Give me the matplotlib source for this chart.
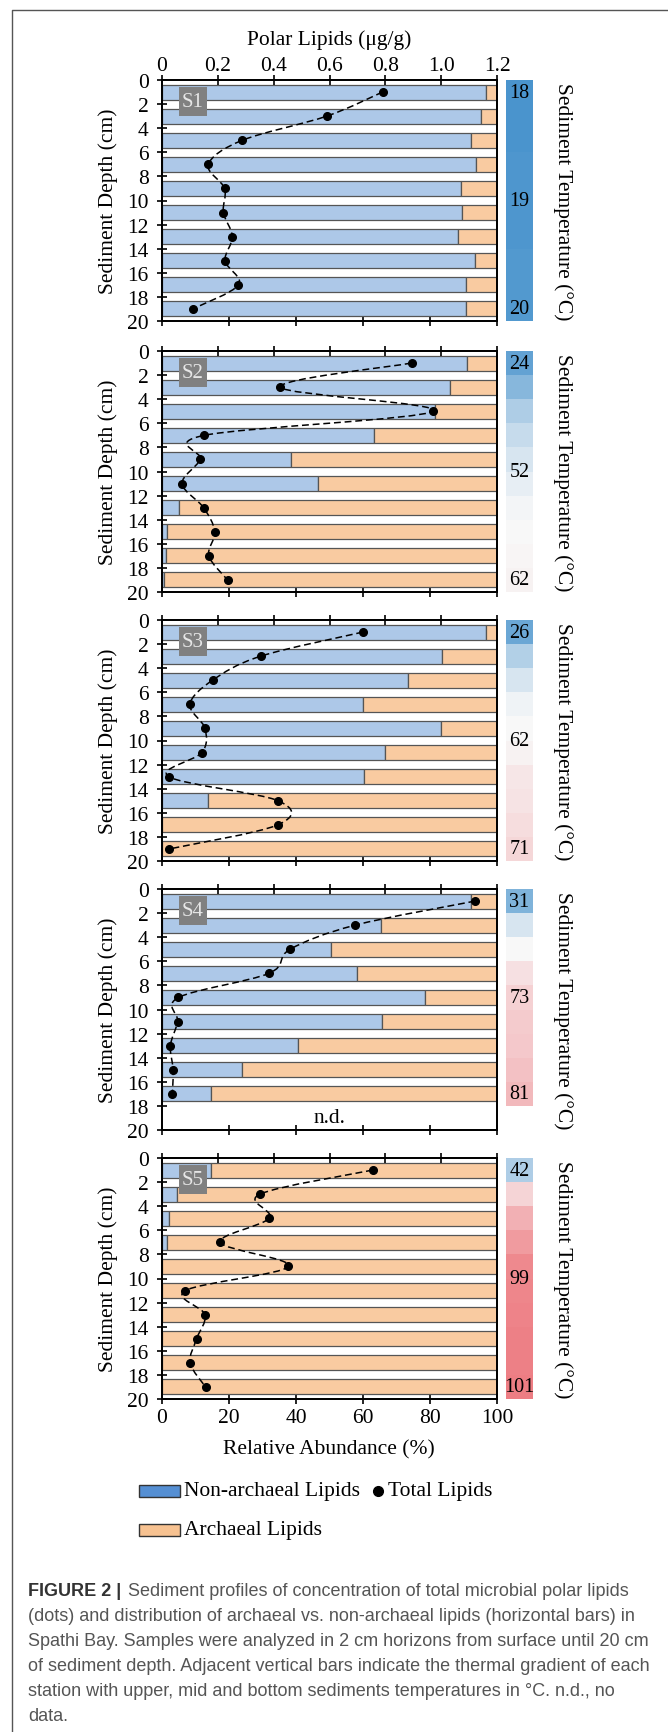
import numpy as np
import matplotlib
matplotlib.use('Agg')
import matplotlib.pyplot as plt
from matplotlib.path import Path
from matplotlib.patches import PathPatch, Rectangle
from matplotlib.colors import LinearSegmentedColormap, TwoSlopeNorm
from matplotlib.lines import Line2D

SERIF = ['Liberation Serif', 'DejaVu Serif']
plt.rcParams['font.family'] = SERIF
plt.rcParams['mathtext.fontset'] = 'stix'

stations = ['S1', 'S2', 'S3', 'S4', 'S5']
depth_full = [1, 3, 5, 7, 9, 11, 13, 15, 17, 19]
depth_s4 = [1, 3, 5, 7, 9, 11, 13, 15, 17]

# non-archaeal share of polar lipids (%), archaeal = rest
nonarch = {
    'S1': [96.8, 95.3, 92.1, 93.8, 89.3, 89.7, 88.4, 93.5, 90.6, 90.6],
    'S2': [91.1, 86.0, 81.4, 63.3, 38.5, 46.6, 5.2, 1.5, 1.3, 0.6],
    'S3': [96.6, 83.5, 73.3, 60.1, 83.2, 66.7, 60.4, 13.6, 0.0, 0.0],
    'S4': [92.1, 65.4, 50.4, 58.1, 78.4, 65.7, 40.7, 23.9, 14.7],
    'S5': [14.6, 4.6, 2.2, 1.4, 0.0, 0.0, 0.0, 0.0, 0.0, 0.0],
}
# total polar lipids (ug/g)
total = {
    'S1': [0.79, 0.59, 0.288, 0.166, 0.224, 0.22, 0.252, 0.226, 0.274, 0.11],
    'S2': [0.894, 0.424, 0.971, 0.151, 0.137, 0.072, 0.149, 0.189, 0.168, 0.235],
    'S3': [0.72, 0.354, 0.181, 0.10, 0.154, 0.143, 0.024, 0.416, 0.415, 0.026],
    'S4': [1.122, 0.692, 0.459, 0.383, 0.059, 0.056, 0.030, 0.040, 0.037],
    'S5': [0.755, 0.351, 0.384, 0.209, 0.453, 0.084, 0.154, 0.124, 0.101, 0.156],
}
# temperature of each 2 cm horizon (deg C)
temps = {
    'S1': [18, 18, 18, 19, 19, 19, 19, 20, 20, 20],
    'S2': [24, 33, 42, 48, 52, 56, 59, 60, 61, 62],
    'S3': [26, 43, 52, 58, 60, 62, 66, 67, 69, 71],
    'S4': [31, 52, 60, 68, 73, 75, 76, 78, 81],
    'S5': [42, 72, 84, 91, 97, 98, 99, 100, 100, 101],
}
temp_labels = {
    'S1': [(18, 1), (19, 10), (20, 19)],
    'S2': [(24, 1), (52, 10), (62, 19)],
    'S3': [(26, 1), (62, 10), (71, 19)],
    'S4': [(31, 1), (73, 9), (81, 17)],
    'S5': [(42, 1), (99, 10), (101, 19)],
}
lipid_ticks = [0, 0.2, 0.4, 0.6, 0.8, 1.0, 1.2]
lipid_ticklabels = ['0', '0.2', '0.4', '0.6', '0.8', '1.0', '1.2']
abund_ticks = [0, 20, 40, 60, 80, 100]
depth_ticks = list(range(0, 21, 2))

caption = [
    'Sediment profiles of concentration of total microbial polar lipids',
    '(dots) and distribution of archaeal vs. non-archaeal lipids (horizontal bars) in',
    'Spathi Bay. Samples were analyzed in 2 cm horizons from surface until 20 cm',
    'of sediment depth. Adjacent vertical bars indicate the thermal gradient of each',
    'station with upper, mid and bottom sediments temperatures in \u00b0C. n.d., no',
    'data.',
]

W, H = 668, 1733
BLUE = '#adc8e8'
ORANGE = '#f9cba1'
EDGE = '#555555'
FS = 15.5

cmap = LinearSegmentedColormap.from_list('temp', ['#4a94cd', '#f8f8f8', '#ed7d83'])
norm = TwoSlopeNorm(vmin=18, vcenter=60, vmax=101)


def fx(px):
    return px / W


def fy(py):
    return 1 - py / H


def smooth_path(x, y):
    pts = np.column_stack([x, y])
    p = np.vstack([pts[0], pts, pts[-1]])
    verts = [pts[0]]
    codes = [Path.MOVETO]
    for i in range(1, len(p) - 2):
        p0, p1, p2, p3 = p[i - 1], p[i], p[i + 1], p[i + 2]
        verts += [p1 + (p2 - p0) / 6, p2 - (p3 - p1) / 6, p2]
        codes += [Path.CURVE4] * 3
    return Path(verts, codes)


fig = plt.figure(figsize=(W / 100, H / 100), dpi=100)

tops = [81, 352, 621, 890, 1159]
ph = 241
left, right = 162, 497

for k, st in enumerate(stations):
    top = tops[k]
    ax = fig.add_axes([fx(left), fy(top + ph), fx(right - left), ph / H])
    d = depth_s4 if st == 'S4' else depth_full
    na = np.array(nonarch[st])
    ax.barh(d, na, height=1.25, color=BLUE, edgecolor=EDGE, linewidth=0.9, zorder=2)
    ax.barh(d, 100 - na, left=na, height=1.25, color=ORANGE, edgecolor=EDGE,
            linewidth=0.9, zorder=2)
    ax.set_xlim(0, 100)
    ax.set_ylim(20, 0)
    ax.set_yticks(depth_ticks, [str(t) for t in depth_ticks])
    ax.set_xticks(abund_ticks, [str(t) for t in abund_ticks])
    ax.tick_params(axis='both', direction='inout', length=7, width=1.2,
                   labelsize=FS, pad=3)
    ax.tick_params(axis='y', pad=6)
    if k < 4:
        ax.tick_params(axis='x', labelbottom=False)
    for lab in ax.get_xticklabels() + ax.get_yticklabels():
        lab.set_fontfamily(SERIF)
    for s in ax.spines.values():
        s.set_linewidth(1.3)

    # station label box
    ax.add_patch(Rectangle((0.051, 1 - 2.99 / 20), 0.083, 2.41 / 20,
                           transform=ax.transAxes, facecolor='#808080',
                           edgecolor='none', zorder=5))
    ax.text(0.0925, 1 - 1.78 / 20, st, transform=ax.transAxes, ha='center',
            va='center', color='#e6e6e6', fontsize=15, zorder=6, family=SERIF)

    if st == 'S4':
        ax.text(50, 19, 'n.d.', ha='center', va='center', fontsize=FS, family=SERIF)

    ax2 = ax.twiny()
    ax2.set_xlim(0, 1.2)
    ax2.set_xticks(lipid_ticks, lipid_ticklabels)
    ax2.tick_params(axis='x', direction='inout', length=7, width=1.2,
                    labelsize=FS, pad=0)
    if k > 0:
        ax2.tick_params(axis='x', labeltop=False)
    for lab in ax2.get_xticklabels():
        lab.set_fontfamily(SERIF)
    ax2.add_patch(PathPatch(smooth_path(total[st], d), fill=False,
                            edgecolor='black', linewidth=1.1,
                            linestyle=(0, (4.5, 2.5)), zorder=3))
    ax2.plot(total[st], d, 'o', color='black', markersize=5.5, zorder=4)
    for s in ax2.spines.values():
        s.set_linewidth(1.3)

    # thermal gradient bar
    tax = fig.add_axes([fx(506), fy(top + ph), fx(27), ph / H])
    edges = np.arange(0, 2 * len(temps[st]) + 1, 2)
    tax.pcolormesh([0, 1], edges, np.array(temps[st]).reshape(-1, 1),
                   cmap=cmap, norm=norm)
    tax.set_xlim(0, 1)
    tax.set_ylim(20, 0)
    tax.axis('off')
    for v, dd in temp_labels[st]:
        tax.text(0.5, dd, str(v), ha='center', va='center', fontsize=14.5,
                 family=SERIF)

    fig.text(fx(108), fy(top + ph / 2), 'Sediment Depth (cm)', rotation=90,
             ha='center', va='center', fontsize=FS, family=SERIF)
    fig.text(fx(563), fy(top + ph / 2), 'Sediment Temperature (\u00b0C)',
             rotation=270, ha='center', va='center', fontsize=FS, family=SERIF)

fig.text(fx(329), fy(40), 'Polar Lipids (\u03bcg/g)', ha='center', va='center',
         fontsize=FS, family=SERIF)
fig.text(fx(329), fy(1450), 'Relative Abundance (%)', ha='center', va='center',
         fontsize=FS, family=SERIF)

# legend
fig.add_artist(Rectangle((fx(139), fy(1498)), fx(41), 12 / H, transform=fig.transFigure,
                         facecolor='#558fd3', edgecolor='#333333', linewidth=1))
fig.text(fx(184), fy(1492), 'Non-archaeal Lipids', ha='left', va='center',
         fontsize=FS, family=SERIF)
fig.add_artist(Line2D([fx(378)], [fy(1492)], marker='o', color='black',
                      markersize=7, transform=fig.transFigure))
fig.text(fx(388), fy(1492), 'Total Lipids', ha='left', va='center', fontsize=FS,
         family=SERIF)
fig.add_artist(Rectangle((fx(139), fy(1537)), fx(41), 12 / H, transform=fig.transFigure,
                         facecolor='#f7c291', edgecolor='#333333', linewidth=1))
fig.text(fx(184), fy(1531), 'Archaeal Lipids', ha='left', va='center', fontsize=FS,
         family=SERIF)

# caption
cap_font = ['Liberation Sans Narrow', 'Liberation Sans', 'DejaVu Sans']
fig.text(fx(28), fy(1592), 'FIGURE 2 |', ha='left', va='center', fontsize=13,
         fontweight='bold', color='#333333', family=cap_font)
for i, line in enumerate(caption):
    x0 = 128 if i == 0 else 28
    fig.text(fx(x0), fy(1592 + 25 * i), line, ha='left', va='center', fontsize=13,
             color='#555555', family=cap_font)

# page frame
fig.add_artist(Line2D([fx(11.5), fx(11.5), 1], [0, fy(10.7), fy(10.7)],
                      transform=fig.transFigure, color='#555555', linewidth=1))

fig.savefig('out.png', dpi=100)
